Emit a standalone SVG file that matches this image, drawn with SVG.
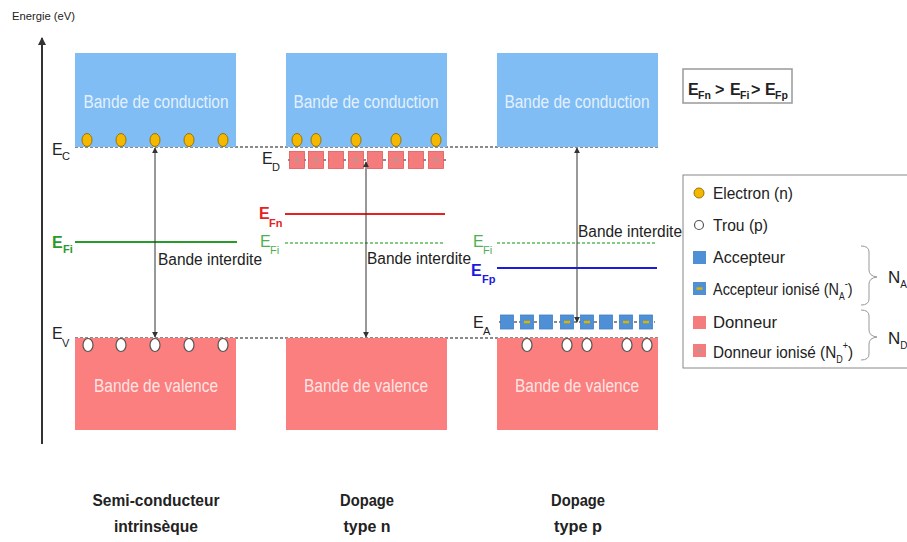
<svg xmlns="http://www.w3.org/2000/svg" width="907" height="542" viewBox="0 0 907 542">
  <style>
    text { font-family: "Liberation Sans", Arial, sans-serif; fill: #222; }
    .cb { fill: #80bdf5; }
    .vb { fill: #fb7f7f; }
    .bt { font-size: 18px; fill: #ffffff; fill-opacity: 0.8; text-anchor: middle; }
    .el { fill: #f5b800; stroke: #9a7400; stroke-width: 1; }
    .ho { fill: #ffffff; stroke: #555; stroke-width: 1.2; }
    .lvl { stroke: #8a8a8a; stroke-width: 2; stroke-dasharray: 3 2; fill: none; }
    .don { fill: #f47c7c; stroke: #e05a5a; stroke-width: 0.8; }
    .acc { fill: #4f8fd6; stroke: #3f7fc6; stroke-width: 0.8; }
    .plus { stroke: #a0a0a0; stroke-width: 1.2; }
    .dash { fill: #d6b400; }
    .arr { stroke: #333; stroke-width: 1; fill: none; marker-start: url(#head); marker-end: url(#head); }
    .big { font-size: 16px; }
    .sub { font-size: 11px; }
    .gap { font-size: 16px; }
    .leg { font-size: 17px; }
    .cap { font-size: 16px; font-weight: bold; text-anchor: middle; }
  </style>
  <defs>
    <marker id="head" viewBox="0 0 8 8" refX="7" refY="4" markerWidth="6" markerHeight="6" orient="auto-start-reverse" markerUnits="userSpaceOnUse">
      <path d="M0,0 L8,4 L0,8 z" fill="#333"/>
    </marker>
    <marker id="axhead" viewBox="0 0 8 8" refX="7" refY="4" markerWidth="8" markerHeight="8" orient="auto" markerUnits="userSpaceOnUse">
      <path d="M0,0 L8,4 L0,8 z" fill="#333"/>
    </marker>
  </defs>

  <!-- energy axis -->
  <g id="axis">
    <text x="12" y="20" font-size="10.5" textLength="63" lengthAdjust="spacingAndGlyphs">Energie (eV)</text>
    <line x1="42" y1="444" x2="42" y2="38" stroke="#333" stroke-width="2" marker-end="url(#axhead)"/>
  </g>

  <!-- reference levels E_C and E_V -->
  <g id="levels">
    <line class="lvl" x1="75" y1="147" x2="658" y2="147"/>
    <line class="lvl" x1="75" y1="338" x2="658" y2="338"/>
  </g>

  <!-- intrinsic semiconductor -->
  <g id="intrinsic">
    <rect class="cb" x="75" y="53" width="161" height="94"/>
    <text class="bt" x="156" y="108" textLength="145" lengthAdjust="spacingAndGlyphs">Bande de conduction</text>
    <rect class="vb" x="75" y="338" width="161" height="92"/>
    <text class="bt" x="156" y="392" textLength="124" lengthAdjust="spacingAndGlyphs">Bande de valence</text>
    <ellipse class="el" cx="87" cy="140" rx="5" ry="6.5"/>
    <ellipse class="el" cx="121" cy="140" rx="5" ry="6.5"/>
    <ellipse class="el" cx="155" cy="140" rx="5" ry="6.5"/>
    <ellipse class="el" cx="189" cy="140" rx="5" ry="6.5"/>
    <ellipse class="el" cx="223" cy="140" rx="5" ry="6.5"/>
    <ellipse class="ho" cx="88" cy="345" rx="5" ry="6.5"/>
    <ellipse class="ho" cx="121" cy="345" rx="5" ry="6.5"/>
    <ellipse class="ho" cx="155" cy="345" rx="5" ry="6.5"/>
    <ellipse class="ho" cx="189" cy="345" rx="5" ry="6.5"/>
    <ellipse class="ho" cx="223" cy="345" rx="5" ry="6.5"/>
    <line x1="75" y1="242" x2="237" y2="242" stroke="#2a9a2a" stroke-width="2"/>
    <text class="big" x="52" y="155">E</text><text class="sub" x="62" y="160">C</text>
    <text class="big" x="52" y="339">E</text><text class="sub" x="62" y="347">V</text>
    <text class="big" x="52" y="248" font-weight="bold" style="fill:#2a9a2a">E</text>
    <text class="sub" x="63" y="253" font-weight="bold" style="fill:#2a9a2a">Fi</text>
    <text class="gap" x="158" y="265" textLength="104" lengthAdjust="spacingAndGlyphs">Bande interdite</text>
    <text class="cap" x="156" y="506" textLength="127" lengthAdjust="spacingAndGlyphs">Semi-conducteur</text>
    <text class="cap" x="156" y="532" textLength="84" lengthAdjust="spacingAndGlyphs">intrinsèque</text>
  </g>

  <!-- n-type doping -->
  <g id="n-type">
    <rect class="cb" x="286" y="53" width="161" height="94"/>
    <text class="bt" x="366" y="108" textLength="145" lengthAdjust="spacingAndGlyphs">Bande de conduction</text>
    <rect class="vb" x="286" y="338" width="161" height="92"/>
    <text class="bt" x="366" y="392" textLength="124" lengthAdjust="spacingAndGlyphs">Bande de valence</text>
    <ellipse class="el" cx="297" cy="140" rx="5" ry="6.5"/>
    <ellipse class="el" cx="316" cy="140" rx="5" ry="6.5"/>
    <ellipse class="el" cx="356" cy="140" rx="5" ry="6.5"/>
    <ellipse class="el" cx="396" cy="140" rx="5" ry="6.5"/>
    <ellipse class="el" cx="436" cy="140" rx="5" ry="6.5"/>
    <!-- donor level -->
    <line class="lvl" x1="288" y1="160" x2="446" y2="160" stroke-width="1.5"/>
    <g id="donors">
      <rect class="don" x="289.5" y="151.5" width="15" height="17"/>
      <rect class="don" x="308.5" y="151.5" width="15" height="17"/>
      <rect class="don" x="328.5" y="151.5" width="15" height="17"/>
      <rect class="don" x="348.5" y="151.5" width="15" height="17"/>
      <rect class="don" x="367.5" y="151.5" width="15" height="17"/>
      <rect class="don" x="388.5" y="151.5" width="15" height="17"/>
      <rect class="don" x="408.5" y="151.5" width="15" height="17"/>
      <rect class="don" x="428.5" y="151.5" width="15" height="17"/>
      <path class="plus" d="M294.5,160 h5 M297,157.5 v5 M313.5,160 h5 M316,157.5 v5 M353.5,160 h5 M356,157.5 v5 M393.5,160 h5 M396,157.5 v5 M433.5,160 h5 M436,157.5 v5"/>
    </g>
    <line x1="285" y1="214" x2="445" y2="214" stroke="#e52222" stroke-width="2"/>
    <line x1="285" y1="243" x2="445" y2="243" stroke="#5cb85c" stroke-width="1.5" stroke-dasharray="3 2"/>
    <text class="big" x="262" y="164">E</text><text class="sub" x="272" y="171">D</text>
    <text class="big" x="259" y="219" font-weight="bold" style="fill:#e52222">E</text>
    <text class="sub" x="269" y="227" font-weight="bold" style="fill:#e52222">Fn</text>
    <text class="big" x="260" y="247" style="fill:#4caf50">E</text>
    <text class="sub" x="270" y="254" style="fill:#4caf50">Fi</text>
    <text class="gap" x="367" y="264" textLength="104" lengthAdjust="spacingAndGlyphs">Bande interdite</text>
    <text class="cap" x="367" y="506" textLength="54" lengthAdjust="spacingAndGlyphs">Dopage</text>
    <text class="cap" x="367" y="532" textLength="47" lengthAdjust="spacingAndGlyphs">type n</text>
  </g>

  <!-- p-type doping -->
  <g id="p-type">
    <rect class="cb" x="497" y="53" width="161" height="94"/>
    <text class="bt" x="577" y="108" textLength="145" lengthAdjust="spacingAndGlyphs">Bande de conduction</text>
    <rect class="vb" x="497" y="338" width="161" height="92"/>
    <text class="bt" x="577" y="392" textLength="124" lengthAdjust="spacingAndGlyphs">Bande de valence</text>
    <line x1="497" y1="243" x2="657" y2="243" stroke="#5cb85c" stroke-width="1.5" stroke-dasharray="3 2"/>
    <line x1="497" y1="268" x2="657" y2="268" stroke="#1a1ae0" stroke-width="2"/>
    <!-- acceptor level -->
    <line class="lvl" x1="499" y1="322" x2="655" y2="322" stroke-width="1.5"/>
    <g id="acceptors">
      <rect class="acc" x="500.5" y="315" width="13" height="14"/>
      <rect class="acc" x="520.5" y="315" width="13" height="14"/>
      <rect class="acc" x="539.5" y="315" width="13" height="14"/>
      <rect class="acc" x="560.5" y="315" width="13" height="14"/>
      <rect class="acc" x="580.5" y="315" width="13" height="14"/>
      <rect class="acc" x="599.5" y="315" width="13" height="14"/>
      <rect class="acc" x="619.5" y="315" width="13" height="14"/>
      <rect class="acc" x="639.5" y="315" width="13" height="14"/>
      <rect class="dash" x="524" y="320.8" width="6" height="2.5"/>
      <rect class="dash" x="564" y="320.8" width="6" height="2.5"/>
      <rect class="dash" x="584" y="320.8" width="6" height="2.5"/>
      <rect class="dash" x="623" y="320.8" width="6" height="2.5"/>
      <rect class="dash" x="643" y="320.8" width="6" height="2.5"/>
    </g>
    <ellipse class="ho" cx="527" cy="345" rx="5" ry="6.5"/>
    <ellipse class="ho" cx="567" cy="345" rx="5" ry="6.5"/>
    <ellipse class="ho" cx="587" cy="345" rx="5" ry="6.5"/>
    <ellipse class="ho" cx="627" cy="345" rx="5" ry="6.5"/>
    <ellipse class="ho" cx="647" cy="345" rx="5" ry="6.5"/>
    <text class="big" x="473" y="247" style="fill:#4caf50">E</text>
    <text class="sub" x="483" y="254" style="fill:#4caf50">Fi</text>
    <text class="big" x="471" y="276" font-weight="bold" style="fill:#1a1ae0">E</text>
    <text class="sub" x="482" y="283" font-weight="bold" style="fill:#1a1ae0">Fp</text>
    <text class="big" x="473" y="328">E</text><text class="sub" x="483" y="335">A</text>
    <text class="gap" x="578" y="237" textLength="104" lengthAdjust="spacingAndGlyphs">Bande interdite</text>
    <text class="cap" x="578" y="506" textLength="54" lengthAdjust="spacingAndGlyphs">Dopage</text>
    <text class="cap" x="578" y="532" textLength="48" lengthAdjust="spacingAndGlyphs">type p</text>
  </g>

  <!-- band-gap arrows -->
  <g id="connectors">
    <line class="arr" x1="155" y1="148" x2="155" y2="337"/>
    <line class="arr" x1="366" y1="162" x2="366" y2="337"/>
    <line class="arr" x1="577" y1="148" x2="577" y2="322"/>
  </g>

  <!-- Fermi level ordering -->
  <g id="fermi-order">
    <rect x="683" y="69" width="109" height="34" fill="#fff" stroke="#999" stroke-width="1.5"/>
    <text x="688" y="95" font-size="16" font-weight="bold">E</text>
    <text x="698" y="99" font-size="10.5" font-weight="bold">Fn</text>
    <text x="715" y="95" font-size="16" font-weight="bold">&gt;</text>
    <text x="730" y="95" font-size="16" font-weight="bold">E</text>
    <text x="740" y="99" font-size="10.5" font-weight="bold">Fi</text>
    <text x="751" y="95" font-size="16" font-weight="bold">&gt;</text>
    <text x="765" y="95" font-size="16" font-weight="bold">E</text>
    <text x="775" y="99" font-size="10.5" font-weight="bold">Fp</text>
  </g>

  <!-- legend -->
  <g id="legend">
    <rect x="683" y="175" width="240" height="193" fill="#fff" stroke="#888" stroke-width="1"/>
    <circle class="el" cx="699" cy="193" r="5"/>
    <text class="leg" x="713" y="199" textLength="80" lengthAdjust="spacingAndGlyphs">Electron (n)</text>
    <circle class="ho" cx="699" cy="225" r="4.5"/>
    <text class="leg" x="713" y="231" textLength="55" lengthAdjust="spacingAndGlyphs">Trou (p)</text>
    <rect x="693" y="251" width="13" height="13" fill="#4f8fd6"/>
    <text class="leg" x="713" y="263" textLength="72" lengthAdjust="spacingAndGlyphs">Accepteur</text>
    <rect x="693" y="282" width="13" height="13" fill="#4f8fd6"/>
    <rect x="696.5" y="287.3" width="6" height="2.5" fill="#d6b400"/>
    <text class="leg" transform="translate(713,295) scale(0.85,1)">Accepteur ionisé (N<tspan font-size="10" dy="5">A</tspan><tspan font-size="11" dy="-13">-</tspan><tspan dy="8">)</tspan></text>
    <rect x="693" y="316" width="13" height="13" fill="#f47c7c"/>
    <text class="leg" x="713" y="328" textLength="64" lengthAdjust="spacingAndGlyphs">Donneur</text>
    <rect x="693" y="344" width="13" height="13" fill="#f47c7c"/>
    <path class="plus" d="M697,350.5 h5 M699.5,348 v5"/>
    <text class="leg" transform="translate(713,358) scale(0.9,1)">Donneur ionisé (N<tspan font-size="10" dy="5">D</tspan><tspan font-size="10" dy="-14">+</tspan><tspan dy="9">)</tspan></text>
    <!-- braces grouping acceptor and donor entries -->
    <path d="M861,246 Q869,246 869,252 V270 Q869,276 877,277 Q869,278 869,284 V299 Q869,305 861,305" fill="none" stroke="#999" stroke-width="1"/>
    <path d="M861,310 Q869,310 869,316 V330 Q869,336 877,337 Q869,338 869,344 V354 Q869,360 861,360" fill="none" stroke="#999" stroke-width="1"/>
    <text class="leg" x="888" y="283">N<tspan font-size="10" dy="5">A</tspan></text>
    <text class="leg" x="888" y="344">N<tspan font-size="10" dy="5">D</tspan></text>
  </g>
</svg>
